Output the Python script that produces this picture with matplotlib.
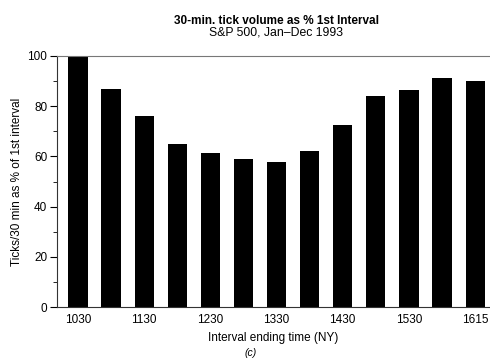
import matplotlib.pyplot as plt
import numpy as np

plt.rcParams['font.family'] = ['Liberation Sans', 'DejaVu Sans']

intervals = ['1030', '1100', '1130', '1200', '1230', '1300', '1330',
             '1400', '1430', '1500', '1530', '1600', '1615']
pct_first = [100, 87, 76, 64.8, 61.3, 58.9, 57.7, 62.1, 72.4, 84.1, 86.5, 91.0, 90.0]
shown_labels = ['1030', '1130', '1230', '1330', '1430', '1530', '1615']


def main():
    fig = plt.figure(figsize=(4.9, 3.58), dpi=100)
    ax = fig.add_axes([0.1163, 0.142, 0.8837, 0.702])

    x = np.arange(len(intervals))
    ax.bar(x, pct_first, width=0.58, color='black')

    ax.set_xlim(-0.634, 12.45)
    ax.set_ylim(0, 100)
    ax.set_yticks(range(0, 101, 20))
    ax.set_yticks(range(0, 101, 10), minor=True)
    ticks = [i for i, t in enumerate(intervals) if t in shown_labels]
    ax.set_xticks(ticks)
    ax.set_xticklabels(shown_labels)
    ax.tick_params(axis='x', length=0, labelsize=8.5, pad=5)
    ax.tick_params(axis='y', which='major', length=5, labelsize=8.5, pad=2)
    ax.tick_params(axis='y', which='minor', length=3)

    ax.spines['right'].set_visible(False)
    ax.spines['top'].set_color('#777777')
    ax.spines['left'].set_color('#333333')
    ax.spines['bottom'].set_color('#333333')

    ax.set_ylabel('Ticks/30 min as % of 1st interval', fontsize=8.5, labelpad=3)
    ax.set_xlabel('Interval ending time (NY)', fontsize=8.5, labelpad=4)

    fig.text(0.565, 0.942, '30-min. tick volume as % 1st Interval',
             ha='center', va='center', fontsize=8.5, fontweight='bold')
    fig.text(0.564, 0.908, 'S&P 500, Jan\u2013Dec 1993',
             ha='center', va='center', fontsize=8.8)
    fig.text(0.512, 0.014, '(c)', ha='center', va='center',
             fontsize=7.5, style='italic')

    fig.savefig('out.png', dpi=100)


if __name__ == "__main__":
    main()
